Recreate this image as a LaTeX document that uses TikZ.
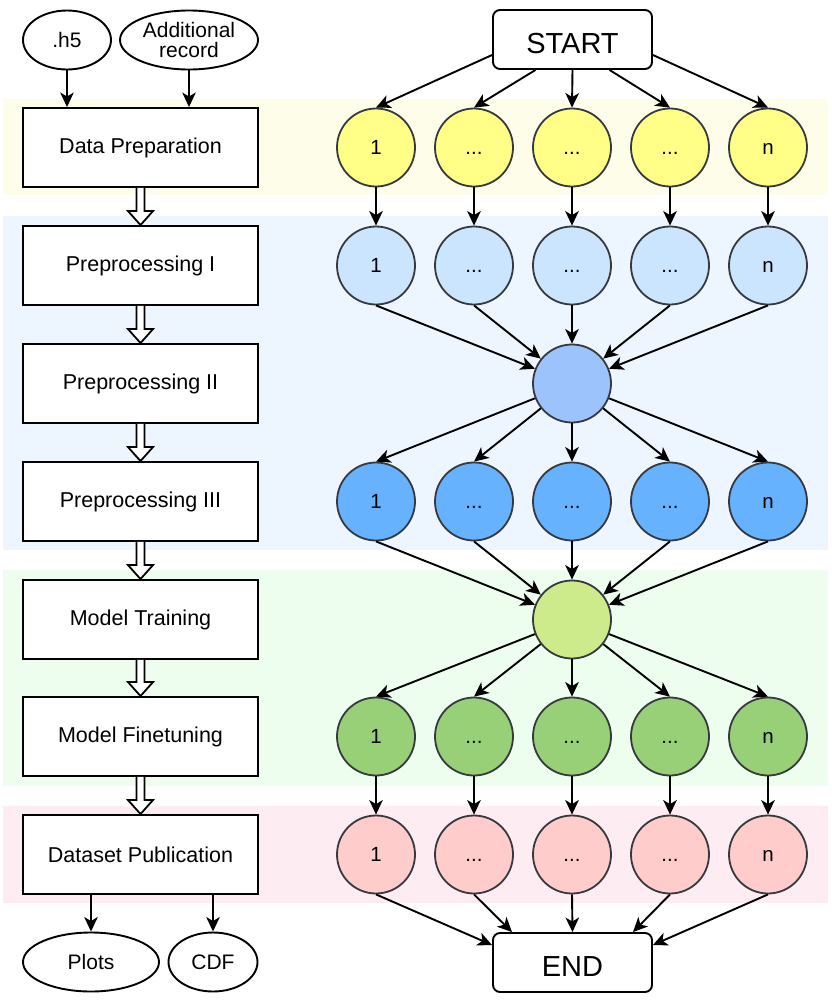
\documentclass[tikz,border=0pt]{standalone}
\usepackage{fontspec}
\setmainfont{Liberation Sans}
\usetikzlibrary{shapes.geometric,arrows.meta,calc}
\definecolor{bandY}{HTML}{FDFDEA}
\definecolor{bandB}{HTML}{EDF5FE}
\definecolor{bandG}{HTML}{EDFDEE}
\definecolor{bandP}{HTML}{FDEDF3}
\definecolor{cY}{HTML}{FFFF88}
\definecolor{cL}{HTML}{CCE5FF}
\definecolor{cHA}{HTML}{9DC3FD}
\definecolor{cB}{HTML}{66B2FF}
\definecolor{cHB}{HTML}{CDEB8B}
\definecolor{cG}{HTML}{97D077}
\definecolor{cP}{HTML}{FFCCCC}
\definecolor{cgray}{HTML}{36393D}
\def\mydots{...}
\begin{document}
\begin{tikzpicture}[x=1pt,y=-1pt,
  stage/.style={draw, line width=1.9pt, minimum width=235pt, minimum height=79pt, inner sep=0pt, fill=white, font=\fontsize{21.5}{24}\selectfont},
  term/.style={draw, rounded corners=7pt, line width=1.9pt, minimum width=159pt, minimum height=59pt, inner sep=0pt, fill=white, text height=27.5pt, text depth=0pt, font=\fontsize{29}{30}\selectfont},
  oval/.style={ellipse, draw, line width=1.9pt, inner sep=0pt, fill=white, minimum height=59pt, align=center, font=\fontsize{21}{19.5}\selectfont},
  circ/.style={circle, draw=cgray, line width=1.8pt, minimum size=78pt, inner sep=0pt, text height=14.3pt, text depth=0pt, font=\fontsize{20.5}{22}\selectfont},
  conn/.style={-{Stealth[length=14.5pt,width=13.5pt,inset=4pt]}, line width=1.9pt},
  hollow/.style={draw, fill=white, line width=1.8pt, line join=miter}
]
\useasboundingbox (0,0) rectangle (831,1002);
% bands
\fill[bandY] (3,99) rectangle (828,195);
\fill[bandB] (3,216) rectangle (828,550);
\fill[bandG] (3,570) rectangle (828,786);
\fill[bandP] (3,806) rectangle (828,903);

% left column
\node[oval, minimum width=88pt] (h5) at (67,40) {.h5};
\node[oval, minimum width=138pt] (addrec) at (189,40) {Additional\\record};
\node[stage] (s1) at (140.5,147.5) {Data Preparation};
\node[stage] (s2) at (140.5,265.5) {Preprocessing I};
\node[stage] (s3) at (140.5,383.5) {Preprocessing II};
\node[stage] (s4) at (140.5,501.5) {Preprocessing III};
\node[stage] (s5) at (140.5,619.5) {Model Training};
\node[stage] (s6) at (140.5,736.5) {Model Finetuning};
\node[stage] (s7) at (140.5,854.5) {Dataset Publication};
\node[oval, minimum width=136pt] (plots) at (91,962) {Plots};
\node[oval, minimum width=89pt] (cdf) at (213,962) {CDF};

\draw[conn] (h5.south) -- (h5.south |- s1.north);
\draw[conn] (addrec.south) -- (addrec.south |- s1.north);
\draw[conn] (plots.north |- s7.south) -- (plots.north);
\draw[conn] (cdf.north |- s7.south) -- (cdf.north);

\foreach \a/\b in {s1/s2,s2/s3,s3/s4,s4/s5,s5/s6,s6/s7}{
  \path[hollow] ($(\a.south)+(-4,0)$) -- ($(\b.north)+(-4,-14)$) -- ($(\b.north)+(-12.5,-14)$)
    -- (\b.north) -- ($(\b.north)+(12.5,-14)$) -- ($(\b.north)+(4,-14)$) -- ($(\a.south)+(4,0)$);
}

% right column
\node[term] (start) at (572.5,39.5) {START};
\node[term] (end) at (572.5,962.5) {END};
\foreach \i/\x/\t in {1/376/1,2/474/\mydots,3/572/\mydots,4/670/\mydots,5/768/n}{
  \node[circ, fill=cY] (y\i) at (\x,147.5) {\t};
  \node[circ, fill=cL] (l\i) at (\x,265.5) {\t};
  \node[circ, fill=cB] (b\i) at (\x,501.5) {\t};
  \node[circ, fill=cG] (g\i) at (\x,736.5) {\t};
  \node[circ, fill=cP] (p\i) at (\x,854.5) {\t};
}
\node[circ, fill=cHA] (hA) at (572,383.5) {};
\node[circ, fill=cHB] (hB) at (572,619.5) {};

\draw[conn] ([yshift=-15.5pt]start.west) -- (y1.north);
\draw[conn] ([xshift=-37pt]start.south) -- (y2.north);
\draw[conn] (start.south) -- (y3.north);
\draw[conn] ([xshift=37pt]start.south) -- (y4.north);
\draw[conn] ([yshift=-15.5pt]start.east) -- (y5.north);

\foreach \i in {1,...,5}{
  \draw[conn] (y\i.south) -- (l\i.north);
  \draw[conn] (l\i.south) -- (hA);
  \draw[conn] (hA) -- (b\i.north);
  \draw[conn] (b\i.south) -- (hB);
  \draw[conn] (hB) -- (g\i.north);
  \draw[conn] (g\i.south) -- (p\i.north);
}

\draw[conn] (p1.south) -- ([yshift=17.5pt]end.west);
\draw[conn] (p2.south) -- ([xshift=-60.5pt]end.north);
\draw[conn] (p3.south) -- (end.north);
\draw[conn] (p4.south) -- ([xshift=60.5pt]end.north);
\draw[conn] (p5.south) -- ([yshift=17.5pt]end.east);
\end{tikzpicture}
\end{document}
